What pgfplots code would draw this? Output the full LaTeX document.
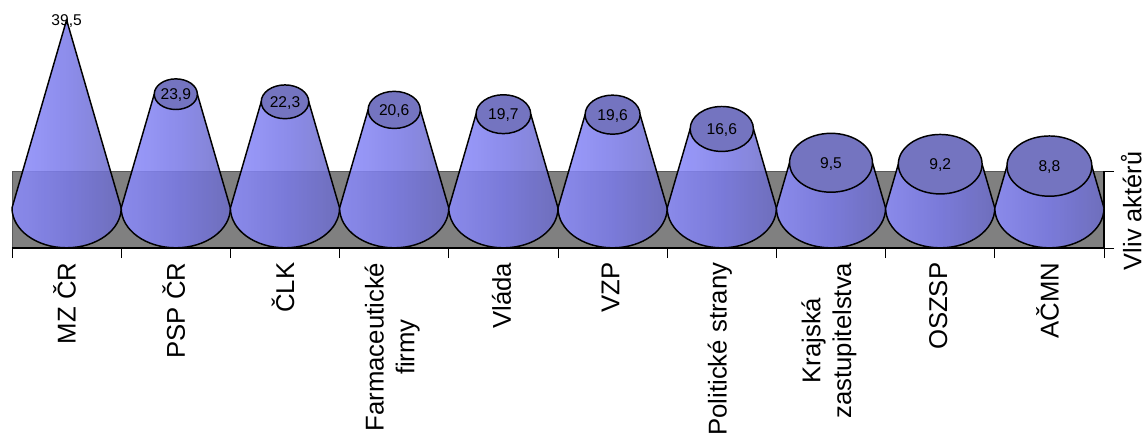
\documentclass[border=0pt]{standalone}
\usepackage{fontspec}
\setmainfont{Liberation Sans}
\usepackage{pgfplots}
\usepackage{pgfplotstable}
\pgfplotsset{compat=1.18}

% 1 px of the reference = 0.75pt
\definecolor{c0}{RGB}{110,110,205}
\definecolor{c1}{RGB}{140,140,252}
\definecolor{c2}{RGB}{122,122,232}
\definecolor{c25}{RGB}{108,108,198}
\definecolor{c3}{RGB}{82,82,150}
\definecolor{conetop}{RGB}{116,116,192}
\definecolor{wall}{RGB}{128,128,128}
\pgfdeclarehorizontalshading{conefill}{100bp}{
  color(0bp)=(c0); color(25bp)=(c1); color(50bp)=(c2); color(75bp)=(c25); color(100bp)=(c3)}

\pgfplotstableread{
x   v
0.5 39.5
1.5 23.9
2.5 22.3
3.5 20.6
4.5 19.7
5.5 19.6
6.5 16.6
7.5 9.5
8.5 9.2
9.5 8.8
}\vlivdata

\newcommand{\drawcone}{%
  % origin is the data point: centre of the top face; base is \cv units lower
  \pgfmathsetmacro\hh{\cv*3.57}% height in pt
  \pgfmathsetmacro\rb{40.95}% base radius
  \pgfmathsetmacro\rt{\rb*(1-\cv/39.5)}
  \pgfmathsetmacro\ryb{\rb*0.73}
  \pgfmathsetmacro\ryt{\rt*0.71}
  \path[draw=black,line width=1.1pt,shading=conefill,fill opacity=0.86,line join=round]
    (-\rb pt,-\hh pt) arc[start angle=180,end angle=360,x radius=\rb pt,y radius=\ryb pt]
    -- (\rt pt,0pt) -- (-\rt pt,0pt) -- cycle;
  \pgfmathparse{\rt>0.5?1:0}%
  \ifnum\pgfmathresult=1
    \path[draw=black,line width=1.1pt,fill=conetop]
      (0pt,0pt) ellipse[x radius=\rt pt,y radius=\ryt pt];
  \fi
}

\begin{document}
\begin{tikzpicture}
\path[use as bounding box] (0,0) rectangle (859.5pt,327pt);
\begin{axis}[
  at={(9pt,141pt)}, anchor=south west,
  scale only axis,
  width=819pt, height=57.75pt,
  xmin=0, xmax=10,
  ymin=-8.4, ymax=7.77,
  clip=false,
  axis background/.style={fill=wall,draw=black!65,line width=0.4pt},
  axis line style={black,line width=0.8pt},
  axis x line*=bottom,
  axis y line*=right,
  xtick={0.5,1.5,...,9.5},
  xticklabels={MZ ČR,PSP ČR,ČLK,{Farmaceutické\\firmy},Vláda,VZP,Politické strany,{Krajská\\zastupitelstva},OSZSP,AČMN},
  minor xtick={0,1,...,10},
  major x tick style={draw=none},
  minor x tick style={black,line width=0.6pt},
  minor tick length=7.5pt,
  x tick label style={rotate=90,anchor=east,align=center,xshift=0pt,yshift=1.5pt,font=\fontsize{19.3}{23}\selectfont},
  xtick pos=bottom,
  ytick={-8.4,7.77},
  yticklabels={},
  ytick pos=right,
  y tick style={black,line width=0.6pt},
  tick align=outside,
  major tick length=7.5pt,
  ylabel={Vliv aktérů},
  every axis y label/.style={at={(axis description cs:1,0.5)},rotate=90,anchor=center,inner sep=0pt,yshift=-20.5pt,xshift=-1.1pt,font=\fontsize{19}{21}\selectfont},
]
% cones, one for each row of the table
\addplot[
  only marks, scatter, mark size=0pt,
  scatter/use mapped color={},
  visualization depends on={rawy \as \cv},
  scatter/@pre marker code/.code={\begingroup\drawcone\endgroup},
  scatter/@post marker code/.code={},
] table[x=x,y=v] {\vlivdata};
% value labels on top
\addplot[
  only marks, mark=none,
  nodes near coords={\pgfmathprintnumber[assume math mode=true,use comma,fixed,fixed zerofill,precision=1]{\pgfplotspointmeta}},
  nodes near coords style={anchor=center,text=black,font=\fontsize{11.7}{13}\selectfont,inner sep=0pt,yshift=-1pt},
] table[x=x,y=v] {\vlivdata};
\end{axis}
\end{tikzpicture}
\end{document}
